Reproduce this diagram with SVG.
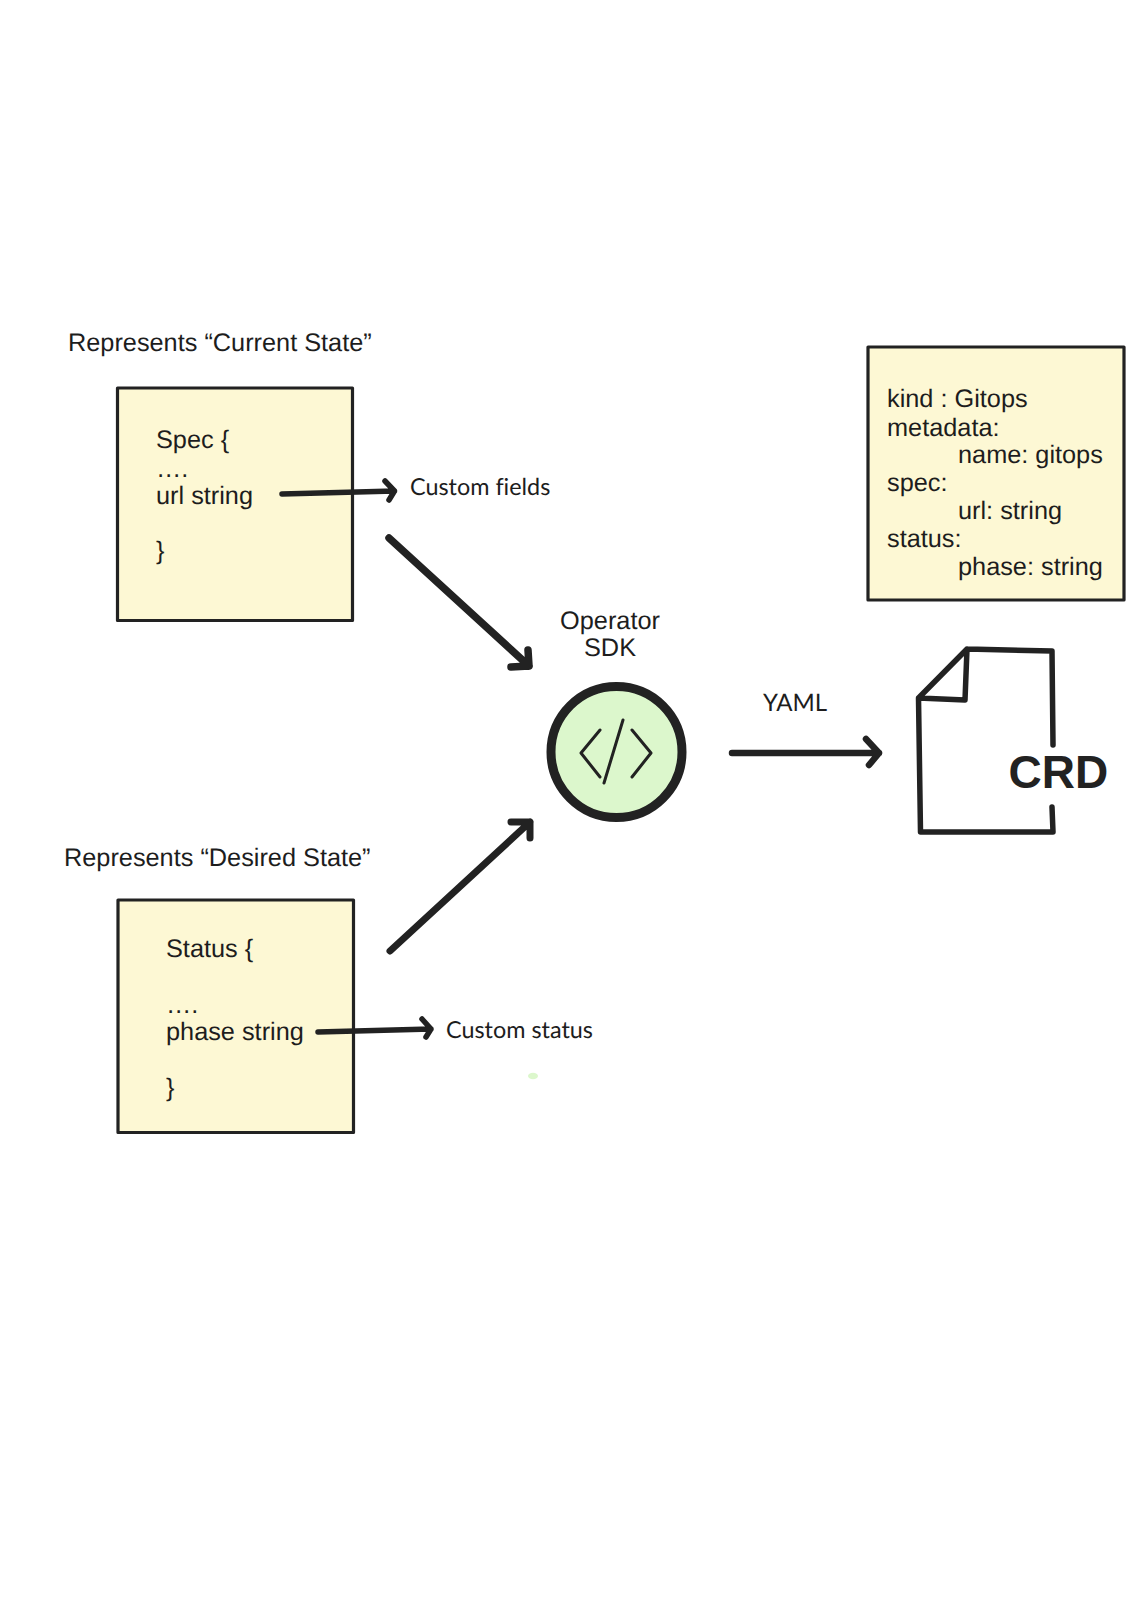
<svg xmlns="http://www.w3.org/2000/svg" width="1143" height="1600" viewBox="0 0 1143 1600">
<style>
.box{fill:#fdf8d4;stroke:#222;stroke-width:3.2;stroke-linejoin:round}
.t{font-family:"Liberation Sans",Arial,sans-serif;font-size:25.3px;fill:#1d1d1d;text-rendering:geometricPrecision}
.g{font-family:Lato,"Noto Sans",sans-serif;font-size:23.4px;fill:#1d1d1d;font-variant-ligatures:none;text-rendering:geometricPrecision}
.ln{fill:none;stroke:#222;stroke-linecap:round;stroke-linejoin:round}
</style>
<rect width="1143" height="1600" fill="#fff"/>
<g id="node-spec">
<rect class="box" x="117.500" y="388" width="235" height="232.500"/>
<text class="t" x="156" y="448">Spec {</text>
<text class="t" x="156" y="477">….</text>
<text class="t" x="156" y="504">url string</text>
<text class="t" x="156" y="559">}</text>
</g>
<text class="t" x="68" y="351">Represents “Current State”</text>
<g id="node-status">
<rect class="box" x="118" y="900" width="235.500" height="232.500"/>
<text class="t" x="166" y="957">Status {</text>
<text class="t" x="166" y="1013">….</text>
<text class="t" x="166" y="1040">phase string</text>
<text class="t" x="166" y="1096">}</text>
</g>
<text class="t" x="64" y="866">Represents “Desired State”</text>
<g id="node-yaml">
<rect class="box" x="868" y="347" width="256" height="253"/>
<text class="t" x="887" y="407">kind : Gitops</text>
<text class="t" x="887" y="436">metadata:</text>
<text class="t" x="958" y="463">name: gitops</text>
<text class="t" x="887" y="491">spec:</text>
<text class="t" x="958" y="519">url: string</text>
<text class="t" x="887" y="547">status:</text>
<text class="t" x="958" y="575">phase: string</text>
</g>
<g id="node-sdk">
<circle cx="616.500" cy="752" r="65.500" fill="#dcf7cc" stroke="#222" stroke-width="9"/>
<path class="ln" stroke-width="3" d="M600 730L581 753L600 777M623 720L604 783M632 730L651 753L632 777"/>
<text class="t" x="610" y="629" text-anchor="middle">Operator</text>
<text class="t" x="610" y="656" text-anchor="middle">SDK</text>
</g>
<g id="node-crd">
<path class="ln" stroke-width="5.500" d="M1053 745L1052 651L967 649L918.500 698L920.500 832L1053 832L1052 807M967 649L965 700L918.500 698"/>
<text x="1008.500" y="788" font-family="'Liberation Sans',Arial,sans-serif" font-weight="700" font-size="46" fill="#222">CRD</text>
</g>
<g id="connectors">
<path class="ln" stroke-width="5.500" d="M282 494L394.500 491M385 481L394.500 491L389 500"/>
<path class="ln" stroke-width="7.500" d="M389 538L529 666M528 650L529 666L511 667"/>
<path class="ln" stroke-width="7" d="M390 951L530 822M511 822L530 822L530 838"/>
<path class="ln" stroke-width="5.500" d="M318 1032L431 1029M422 1019L431 1029L426 1037"/>
<path class="ln" stroke-width="6.500" d="M732 753L879 753M866 739L879 753L869 765"/>
</g>
<text class="g" x="410" y="495">Custom fields</text>
<text class="g" x="446" y="1038">Custom status</text>
<text class="g" x="763" y="711" style="font-size:24px">YAML</text>
<ellipse cx="533" cy="1076" rx="5" ry="3.2" fill="#dcf7cc"/>
</svg>
